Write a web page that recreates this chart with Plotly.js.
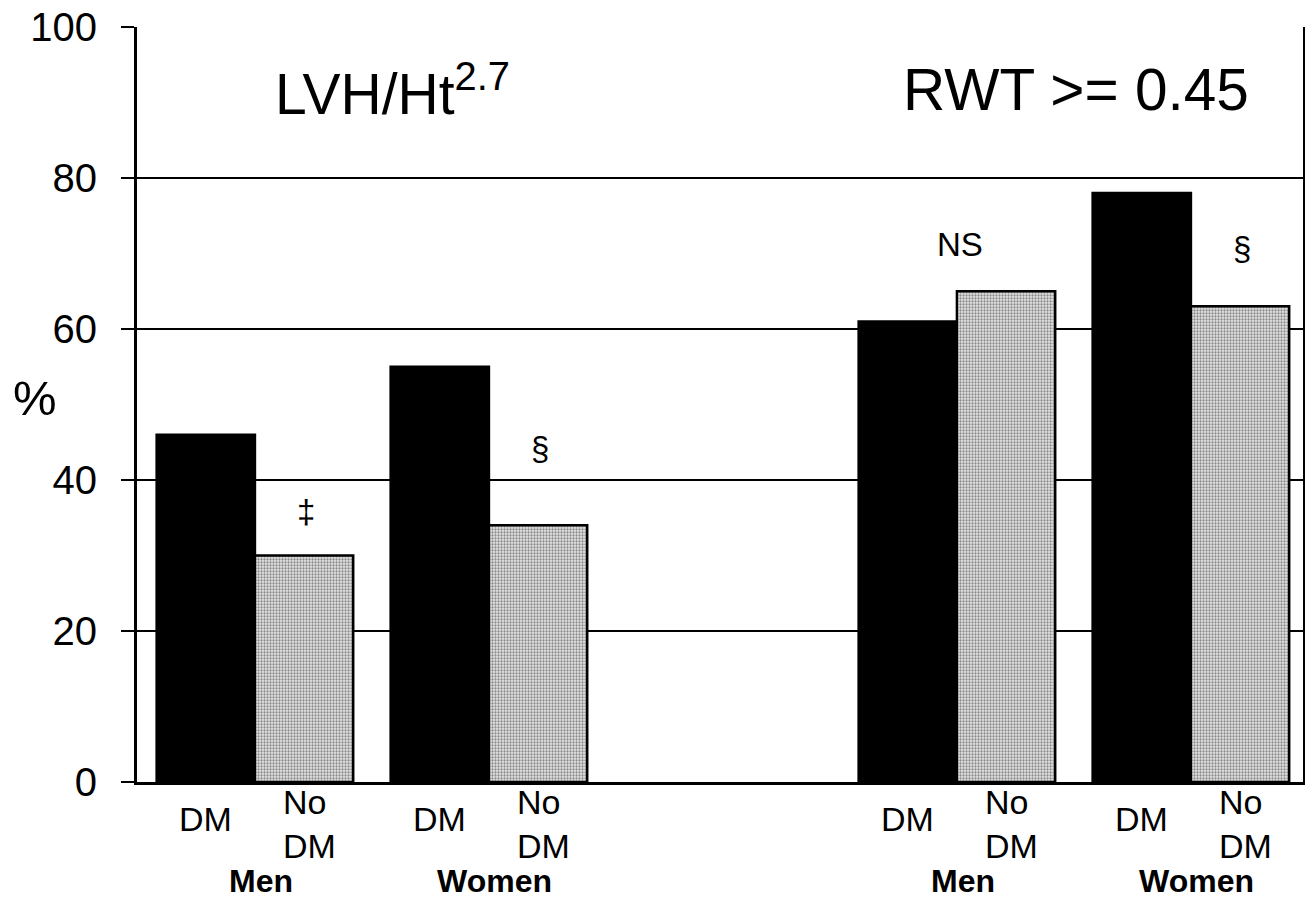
<!DOCTYPE html>
<html>
<head>
<meta charset="utf-8">
<script src="https://cdn.plot.ly/plotly-3.0.1.min.js"></script>
<style>html,body{margin:0;padding:0;background:#fff;}</style>
</head>
<body>
<div id="chart" style="width:1305px;height:900px;"></div>
<script>
// ---- data ----
const groupNames = ['Men', 'Women', 'Men', 'Women'];
const groupPos = [0, 1, 3, 4];
const dmValues = [46, 55, 61, 78];
const noDmValues = [30, 34, 65, 63];
const barLabels = ['DM', 'No<br>DM'];
const yTicks = [0, 20, 40, 60, 80, 100];
const sigMarks = ['‡', '§', 'NS', '§'];
const sigY = [35.8, 44.2, 71.2, 70.7];
const panelTitles = ['LVH/Ht<sup>2.7</sup>', 'RWT >= 0.45'];

const FONT = 'Liberation Sans, Arial, sans-serif';
const BW = 0.42;

const traces = [
  {
    type: 'bar', x: groupPos, y: dmValues, width: BW, offset: -BW,
    marker: {color: '#000000', line: {color: '#000000', width: 2.5}},
    hoverinfo: 'skip', showlegend: false
  },
  {
    type: 'bar', x: groupPos, y: noDmValues, width: BW, offset: 0,
    marker: {
      color: '#c4c4c4',
      line: {color: '#000000', width: 2.5},
      pattern: {shape: '.', fgcolor: '#8a8a8a', bgcolor: '#e6e6e6', size: 3, solidity: 0.45}
    },
    hoverinfo: 'skip', showlegend: false
  }
];

const annotations = [];
groupPos.forEach((p, i) => {
  annotations.push({x: p - BW / 2, y: -0.049, xref: 'x', yref: 'paper', text: barLabels[0],
    showarrow: false, xanchor: 'center', yanchor: 'middle', font: {family: FONT, size: 34, color: '#000'}});
  annotations.push({x: p + BW / 2, y: -0.056, xref: 'x', yref: 'paper', text: barLabels[1],
    showarrow: false, xanchor: 'center', yanchor: 'middle', align: 'left', xshift: 5,
    font: {family: FONT, size: 34, color: '#000'}});
  annotations.push({x: p, y: -0.131, xref: 'x', yref: 'paper', text: '<b>' + groupNames[i] + '</b>',
    showarrow: false, xanchor: 'center', yanchor: 'middle', xshift: 6,
    font: {family: FONT, size: 32, color: '#000'}});
  const sx = sigMarks[i] === 'NS' ? p : p + BW / 2;
  annotations.push({x: sx, y: sigY[i], xref: 'x', yref: 'y', text: sigMarks[i],
    showarrow: false, xanchor: 'center', yanchor: 'middle', xshift: sigMarks[i] === 'NS' ? 3 : 2,
    font: {family: FONT, size: 33, color: '#000'}});
});
annotations.push({x: 0.117, y: 0.917, xref: 'paper', yref: 'paper', text: panelTitles[0],
  showarrow: false, xanchor: 'left', yanchor: 'middle', font: {family: FONT, size: 57, color: '#000'}});
annotations.push({x: 0.955, y: 0.917, xref: 'paper', yref: 'paper', text: panelTitles[1],
  showarrow: false, xanchor: 'right', yanchor: 'middle', font: {family: FONT, size: 58.5, color: '#000'}});
annotations.push({x: -0.0875, y: 0.509, xref: 'paper', yref: 'paper', text: '%',
  showarrow: false, xanchor: 'center', yanchor: 'middle', font: {family: FONT, size: 49, color: '#000'}});

const layout = {
  width: 1305, height: 900,
  margin: {l: 137, r: 2, t: 27, b: 118, pad: 0},
  paper_bgcolor: '#fff', plot_bgcolor: '#fff',
  barmode: 'overlay',
  xaxis: {
    range: [-0.504, 4.479], showticklabels: false, ticks: '', showgrid: false, zeroline: false,
    showline: true, linecolor: '#000', linewidth: 3, fixedrange: true
  },
  yaxis: {
    range: [0, 100], tickvals: yTicks, ticktext: yTicks.map(String),
    ticks: 'outside', ticklen: 13, tickwidth: 2.5, tickcolor: '#000',
    ticklabelstandoff: 16,
    showgrid: true, gridcolor: '#000', gridwidth: 2.5, zeroline: false,
    showline: true, linecolor: '#000', linewidth: 3, mirror: true,
    tickfont: {family: FONT, size: 40, color: '#000'}, fixedrange: true
  },
  annotations: annotations,
  font: {family: FONT, color: '#000'}
};

Plotly.newPlot('chart', traces, layout, {displayModeBar: false, staticPlot: true});
</script>
</body>
</html>
